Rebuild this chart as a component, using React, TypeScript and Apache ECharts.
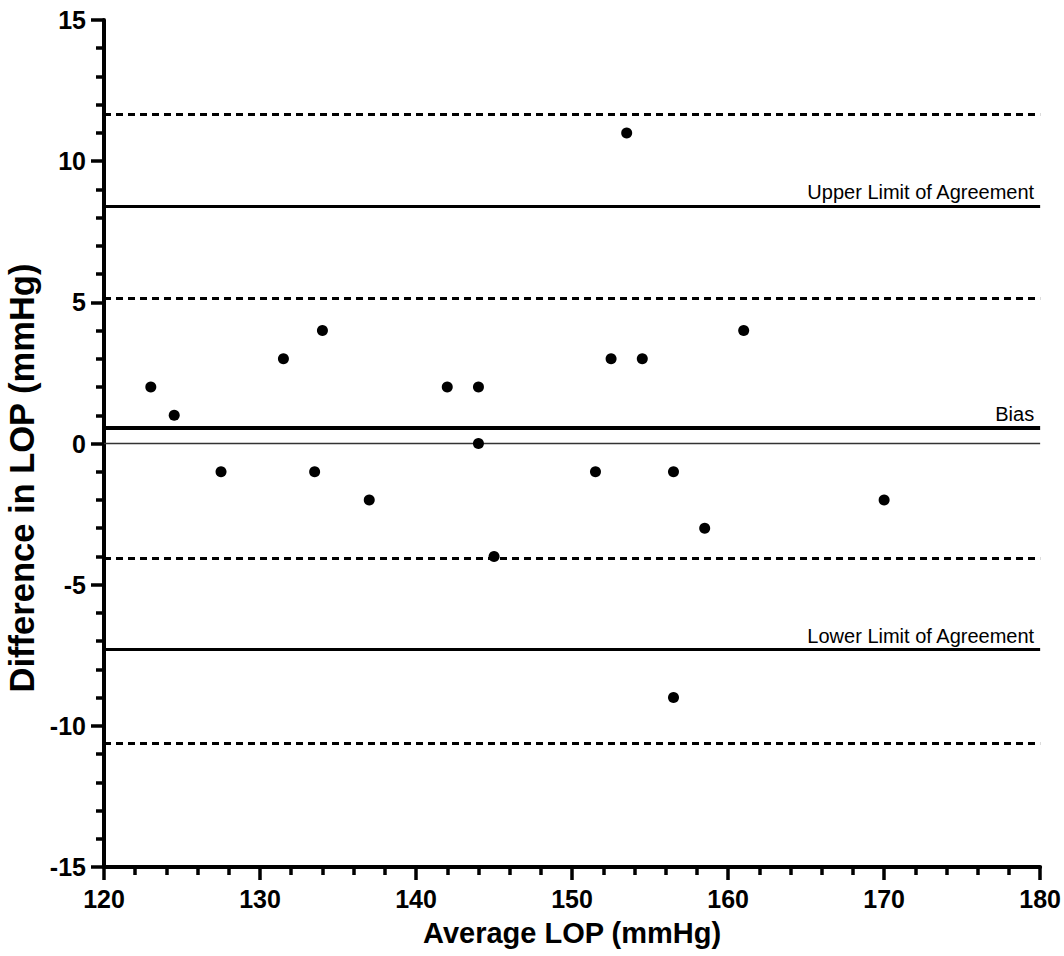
import React, { useEffect, useRef } from "react";
import * as echarts from "echarts";

const avgLOP = [123, 124.5, 127.5, 131.5, 133.5, 134, 137, 142, 144, 144, 145, 151.5, 152.5, 153.5, 154.5, 156.5, 156.5, 158.5, 161, 170];
const diffLOP = [2, 1, -1, 3, -1, 4, -2, 2, 2, 0, -4, -1, 3, 11, 3, -1, -9, -3, 4, -2];

const bias = 0.55;
const upperLoA = 8.4;
const lowerLoA = -7.3;
const ciLines = [11.65, 5.15, -4.05, -10.6];

const xTitle = "Average LOP (mmHg)";
const yTitle = "Difference in LOP (mmHg)";
const FONT = "'Liberation Sans', Arial, Helvetica, sans-serif";

export default function App() {
  const ref = useRef<HTMLDivElement>(null);
  useEffect(() => {
    if (!ref.current) return;
    const chart = echarts.init(ref.current, undefined, { renderer: "svg" });
    const labelStyle = {
      show: true,
      position: "insideEndTop",
      fontSize: 20,
      color: "#000",
      fontFamily: FONT,
      distance: [6, 4],
    };
    const markData: any[] = [
      ...ciLines.map((v) => ({
        yAxis: v,
        lineStyle: { type: [7, 5], width: 2.8, color: "#000" },
        label: { show: false },
      })),
      {
        yAxis: upperLoA,
        lineStyle: { type: "solid", width: 2.8, color: "#000" },
        label: { ...labelStyle, formatter: "Upper Limit of Agreement" },
      },
      {
        yAxis: lowerLoA,
        lineStyle: { type: "solid", width: 2.8, color: "#000" },
        label: { ...labelStyle, formatter: "Lower Limit of Agreement" },
      },
      {
        yAxis: bias,
        lineStyle: { type: "solid", width: 4, color: "#000" },
        label: { ...labelStyle, formatter: "Bias" },
      },
      {
        yAxis: 0,
        lineStyle: { type: "solid", width: 1.4, color: "#333" },
        label: { show: false },
      },
    ];
    const tickLabel = { fontSize: 25, fontWeight: "bold", color: "#000", fontFamily: FONT };
    const majorTick = { show: true, inside: false, length: 13, lineStyle: { color: "#000", width: 3.5, opacity: 1 } };
    const minorTick = { show: true, splitNumber: 5, length: 8, lineStyle: { color: "#000", width: 3.5, opacity: 1 } };
    chart.setOption({
      animation: false,
      backgroundColor: "#fff",
      grid: { left: 104, right: 22, top: 20, bottom: 89, containLabel: false },
      xAxis: {
        type: "value",
        min: 120,
        max: 180,
        interval: 10,
        name: xTitle,
        nameLocation: "middle",
        nameGap: 51,
        nameTextStyle: { fontSize: 29, fontWeight: "bold", color: "#000", fontFamily: FONT },
        axisLine: { show: true, onZero: false, lineStyle: { color: "#000", width: 4 } },
        axisTick: majorTick,
        minorTick: minorTick,
        splitLine: { show: false },
        minorSplitLine: { show: false },
        axisLabel: { ...tickLabel, margin: 19 },
      },
      yAxis: {
        type: "value",
        min: -15,
        max: 15,
        interval: 5,
        axisLine: { show: true, onZero: false, lineStyle: { color: "#000", width: 4 } },
        axisTick: majorTick,
        minorTick: minorTick,
        splitLine: { show: false },
        minorSplitLine: { show: false },
        axisLabel: { ...tickLabel, margin: 18 },
      },
      graphic: [
        {
          type: "text",
          x: 22,
          y: 478,
          rotation: Math.PI / 2,
          style: {
            text: yTitle,
            fontSize: 34.5,
            fontWeight: "bold",
            fill: "#000",
            fontFamily: FONT,
            align: "center",
            verticalAlign: "middle",
          },
        },
      ],
      series: [
        {
          type: "scatter",
          data: avgLOP.map((x, i) => [x, diffLOP[i]]),
          symbol: "circle",
          symbolSize: 11,
          itemStyle: { color: "#000", opacity: 1 },
          z: 5,
          markLine: {
            silent: true,
            symbol: "none",
            animation: false,
            data: markData,
          },
        },
      ],
    });
    return () => chart.dispose();
  }, []);
  return (
    <div
      ref={ref}
      style={{ position: "fixed", left: 0, top: 0, width: 1064, height: 956, background: "#fff" }}
    />
  );
}
